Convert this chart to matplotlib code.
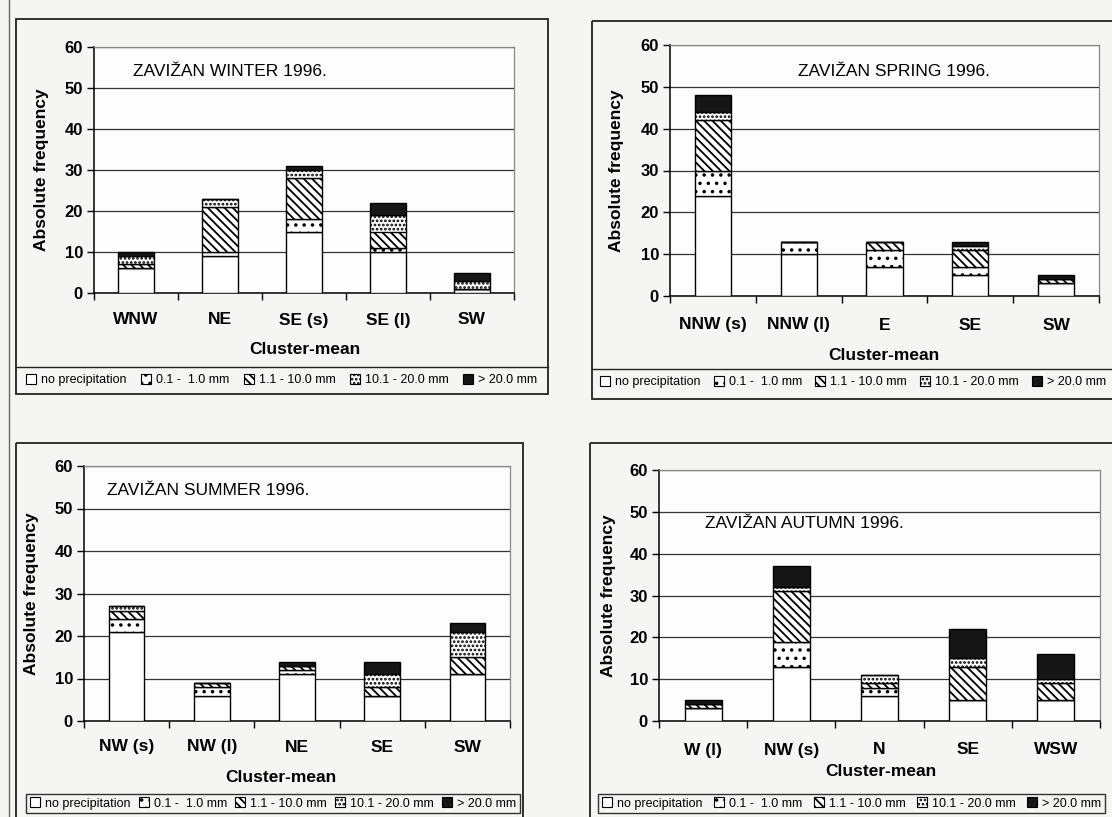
import matplotlib.pyplot as plt
from matplotlib.patches import Patch, Rectangle
import numpy as np

plt.rcParams['font.family'] = ['Liberation Sans', 'DejaVu Sans']
plt.rcParams['hatch.linewidth'] = 1.3

# absolute frequency of days per cluster, split by daily precipitation class
winter_cats = ['WNW', 'NE', 'SE (s)', 'SE (l)', 'SW']
winter_none = [6, 9, 15, 10, 1]
winter_p01 = [0, 1, 3, 1, 0]
winter_p1 = [1, 11, 10, 4, 0]
winter_p10 = [2, 2, 2, 4, 2]
winter_p20 = [1, 0, 1, 3, 2]

spring_cats = ['NNW (s)', 'NNW (l)', 'E', 'SE', 'SW']
spring_none = [24, 10, 7, 5, 3]
spring_p01 = [6, 3, 4, 2, 0]
spring_p1 = [12, 0, 2, 4, 1]
spring_p10 = [2, 0, 0, 1, 0]
spring_p20 = [4, 0, 0, 1, 1]

summer_cats = ['NW (s)', 'NW (l)', 'NE', 'SE', 'SW']
summer_none = [21, 6, 11, 6, 11]
summer_p01 = [3, 2, 1, 0, 0]
summer_p1 = [2, 1, 1, 2, 4]
summer_p10 = [1, 0, 0, 3, 6]
summer_p20 = [0, 0, 1, 3, 2]

autumn_cats = ['W (l)', 'NW (s)', 'N', 'SE', 'WSW']
autumn_none = [3, 13, 6, 5, 5]
autumn_p01 = [0, 6, 2, 0, 0]
autumn_p1 = [1, 12, 1, 8, 4]
autumn_p10 = [0, 1, 2, 2, 1]
autumn_p20 = [1, 5, 0, 7, 6]

class_labels = ['no precipitation', '0.1 -  1.0 mm', '1.1 - 10.0 mm',
                '10.1 - 20.0 mm', '> 20.0 mm']

# fill / hatch for each precipitation class, bottom to top
seg_style = [('white', ''), ('white', '..'), ('white', '\\\\\\\\'),
             ('white', '....'), ('#161616', '')]

W, H = 1112, 817
fig = plt.figure(figsize=(W / 100, H / 100), dpi=100, facecolor='#f5f5f3')


def px_rect(x0, y0, x1, y1):
    return [x0 / W, 1 - y1 / H, (x1 - x0) / W, (y1 - y0) / H]


# page: outer frames of the four diagrams
bg = fig.add_axes([0, 0, 1, 1])
bg.set_xlim(0, W)
bg.set_ylim(H, 0)
bg.axis('off')
bg.plot([9, 9], [0, H], color='#666666', lw=1.0)
for (bx0, by0, bx1, by1) in [(16, 19, 548, 394), (592, 21, 1140, 399),
                             (16, 443, 523, 830), (590, 443, 1140, 830)]:
    bg.add_patch(Rectangle((bx0, by0), bx1 - bx0, by1 - by0, fill=False,
                           edgecolor='#222222', lw=1.3))
bg.plot([16, 548], [367, 367], color='#222222', lw=1.0)
bg.plot([592, 1140], [369, 369], color='#222222', lw=1.0)

panels = [
    dict(cats=winter_cats, series=[winter_none, winter_p01, winter_p1, winter_p10, winter_p20],
         title='ZAVIŽAN WINTER 1996.', axes=(94, 47, 514, 293), title_at=(133, 71),
         tick_y=320, xlab_at=(305, 349), ylab_x=42,
         legend=(22, 368, 541, 392), framed=False),
    dict(cats=spring_cats, series=[spring_none, spring_p01, spring_p1, spring_p10, spring_p20],
         title='ZAVIŽAN SPRING 1996.', axes=(670, 45, 1099, 296), title_at=(798, 71),
         tick_y=325, xlab_at=(884, 356), ylab_x=617,
         legend=(596, 370, 1110, 394), framed=False),
    dict(cats=summer_cats, series=[summer_none, summer_p01, summer_p1, summer_p10, summer_p20],
         title='ZAVIŽAN SUMMER 1996.', axes=(84, 466, 510, 721), title_at=(107, 491),
         tick_y=747, xlab_at=(281, 777), ylab_x=32,
         legend=(26, 792, 520, 815), framed=True),
    dict(cats=autumn_cats, series=[autumn_none, autumn_p01, autumn_p1, autumn_p10, autumn_p20],
         title='ZAVIŽAN AUTUMN 1996.', axes=(659, 470, 1100, 721), title_at=(705, 523),
         tick_y=750, xlab_at=(881, 771), ylab_x=608,
         legend=(598, 792, 1105, 815), framed=True),
]

handles = [Patch(facecolor=fc, hatch=h, edgecolor='black', linewidth=0.8, label=lab)
           for (fc, h), lab in zip(seg_style, class_labels)]

for p in panels:
    x0, y0, x1, y1 = p['axes']
    ax = fig.add_axes(px_rect(x0, y0, x1, y1))
    ax.set_facecolor('#fdfdfd')
    x = np.arange(len(p['cats']))
    bottom = np.zeros(len(p['cats']))
    for vals, (fc, hatch) in zip(p['series'], seg_style):
        vals = np.array(vals, dtype=float)
        ax.bar(x, vals, width=0.42, bottom=bottom, color=fc, hatch=hatch,
               edgecolor='black', linewidth=1.0, zorder=3)
        bottom += vals

    ax.set_xlim(-0.5, len(x) - 0.5)
    ax.set_ylim(0, 60)
    ax.set_yticks(range(0, 61, 10))
    ax.yaxis.grid(True, color='#333333', linewidth=0.9)
    ax.set_axisbelow(True)

    # ticks on the category boundaries, names centred under the bars
    ax.set_xticks(np.arange(len(x) + 1) - 0.5)
    ax.set_xticklabels([])
    ax.set_xticks(x, minor=True)
    ax.set_xticklabels(p['cats'], minor=True, fontsize=12.5, fontweight='bold')
    ax.tick_params(axis='x', which='major', length=5, width=1.0, direction='out')
    ax.tick_params(axis='x', which='minor', length=0, pad=(p['tick_y'] - y1) * 0.72)
    for lab in ax.get_xminorticklabels():
        lab.set_va('center')
    ax.tick_params(axis='y', length=5, width=1.0, labelsize=12, pad=3)
    for lab in ax.get_yticklabels():
        lab.set_fontweight('bold')

    for side in ['left', 'bottom']:
        ax.spines[side].set_color('black')
        ax.spines[side].set_linewidth(1.1)
    for side in ['top', 'right']:
        ax.spines[side].set_color('#888888')
        ax.spines[side].set_linewidth(0.9)

    ax.set_ylabel('Absolute frequency', fontsize=12.5, fontweight='bold')
    ax.yaxis.set_label_coords(-(x0 - p['ylab_x']) / (x1 - x0), 0.5)
    ax.yaxis.label.set_va('center')

    cx, cy = p['xlab_at']
    ax.set_xlabel('Cluster-mean', fontsize=12.5, fontweight='bold')
    ax.xaxis.set_label_coords((cx - x0) / (x1 - x0), -(cy - y1) / (y1 - y0))
    ax.xaxis.label.set_va('center')

    tx, ty = p['title_at']
    ax.text((tx - x0) / (x1 - x0), (y1 - ty) / (y1 - y0), p['title'],
            transform=ax.transAxes, ha='left', va='center', fontsize=12.5)

    lx0, ly0, lx1, ly1 = p['legend']
    leg = fig.legend(handles=handles, loc='center', ncol=5, mode='expand',
                     bbox_to_anchor=(lx0 / W, 1 - ly1 / H, (lx1 - lx0) / W, (ly1 - ly0) / H),
                     frameon=p['framed'], fancybox=False, fontsize=9,
                     handlelength=0.8, handleheight=0.8, handletextpad=0.4,
                     borderaxespad=0, borderpad=0.3, columnspacing=0.4)
    if p['framed']:
        leg.get_frame().set_edgecolor('black')
        leg.get_frame().set_linewidth(1.0)
        leg.get_frame().set_facecolor('none')

fig.savefig('out.png', dpi=100, facecolor=fig.get_facecolor())
